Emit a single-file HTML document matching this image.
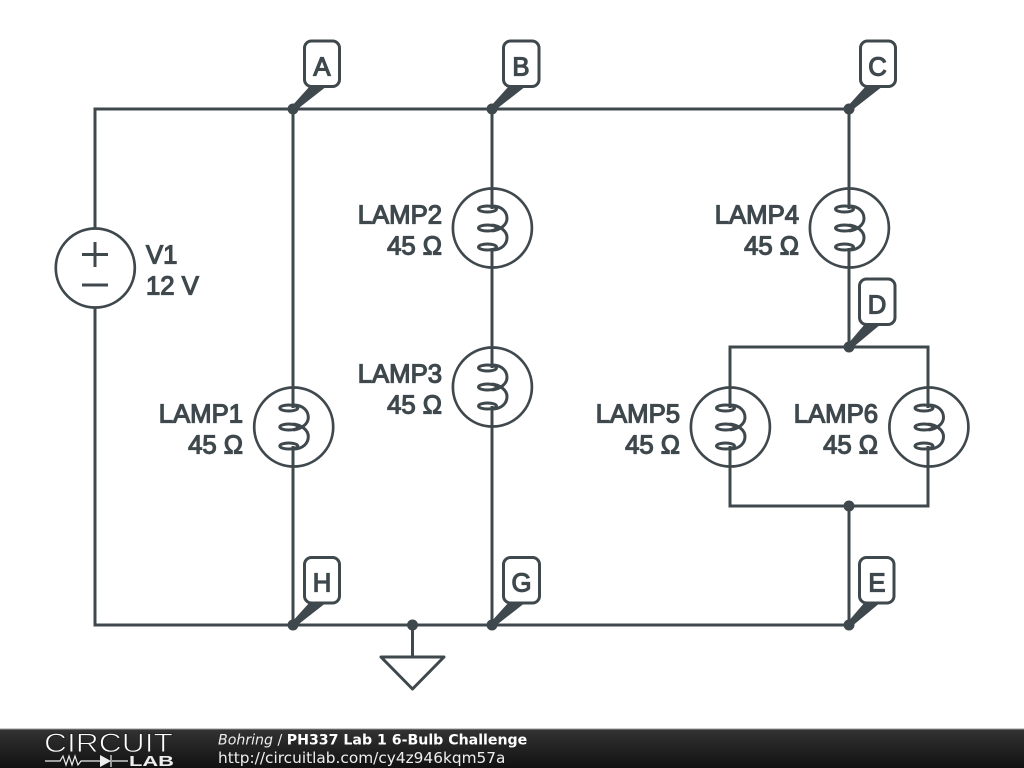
<!DOCTYPE html>
<html><head><meta charset="utf-8"><style>
html,body{margin:0;padding:0;background:#fff;width:1024px;height:768px;overflow:hidden}
svg{display:block}
.l,.n,.v{font:25.7px "Liberation Sans",sans-serif;fill:#3f484d;stroke:#3f484d;stroke-width:1.200px}
.l{text-anchor:end}
.n{text-anchor:middle}
</style></head><body>
<svg width="1024" height="768" viewBox="0 0 1024 768" xmlns="http://www.w3.org/2000/svg">
<defs>
<linearGradient id="f" x1="0" y1="0" x2="0" y2="1"><stop offset="0" stop-color="#333"/><stop offset="1" stop-color="#111"/></linearGradient>
<g id="coil" fill="none" stroke="#3f484d" stroke-width="3">
<ellipse cx="-4.500" cy="-19" rx="9" ry="3"/><ellipse cx="-4.500" cy="0" rx="9" ry="3"/><ellipse cx="-4.500" cy="19" rx="9" ry="3"/>
<path d="M0 -22C10 -22 15 -16 15 -9.500C15 -3 8 2 0 3M0 -3C8 -2 15 3 15 9.500C15 16 10 22 0 22"/>
<circle cx=".4" r="39.500" stroke-width="2.700"/>
</g>
</defs>
<g fill="none" stroke="#3f484d" stroke-width="3">
<path d="M95 228V109H849V209M95 308V625H849V506M293 109V408M293 446V625M492 109V209M492 248V368M492 406V625M849 248V347M730 408V347H928V408M730 446V506H928V446M412.500 625V657"/>
<circle cx="95.300" cy="268" r="39.500" stroke-width="2.700"/>
<path d="M82 254.500H108M95 242V267M82 285H108"/>
<path d="M381 657H444L412.500 689Z" stroke-linejoin="round"/>
</g>
<use href="#coil" x="293.300" y="427"/>
<use href="#coil" x="492" y="228"/>
<use href="#coil" x="492" y="387"/>
<use href="#coil" x="849" y="228"/>
<use href="#coil" x="730" y="427"/>
<use href="#coil" x="928.500" y="427"/>
<g fill="#3f484d">
<circle cx="293" cy="109" r="5.500"/><circle cx="492" cy="109" r="5.500"/><circle cx="849" cy="109" r="5.500"/>
<circle cx="849" cy="347" r="5.500"/><circle cx="849" cy="506" r="5.500"/>
<circle cx="293" cy="625" r="5.500"/><circle cx="492" cy="625" r="5.500"/><circle cx="849" cy="625" r="5.500"/><circle cx="412.500" cy="625" r="5.500"/>
<path d="M291 107L310 86H327L295 111Z"/><path d="M490 107L509 86H526L494 111Z"/><path d="M847 107L866 86H883L851 111Z"/>
<path d="M847 345L865 324H881L851 349Z"/>
<path d="M291 623L310 602H327L295 627Z"/><path d="M490 623L509 602H526L494 627Z"/><path d="M847 623L865 602H881L851 627Z"/>
</g>
<g fill="#fff" stroke="#3f484d" stroke-width="3">
<rect x="304.500" y="41" width="35" height="45.500" rx="7"/>
<rect x="503.500" y="41" width="35.500" height="45.500" rx="7"/>
<rect x="860.500" y="41" width="35" height="45.500" rx="7"/>
<rect x="859.500" y="279" width="35.500" height="45.500" rx="7"/>
<rect x="304.500" y="557.500" width="35" height="45.500" rx="7"/>
<rect x="503.500" y="557.500" width="36" height="45.500" rx="7"/>
<rect x="859.500" y="557.500" width="34.500" height="45.500" rx="7"/>
</g>
<text class="n" x="322" y="75.700">A</text><text class="n" x="521" y="75.700">B</text><text class="n" x="877.500" y="75.700">C</text>
<text class="n" x="877" y="313.700">D</text><text class="n" x="322" y="591.700">H</text><text class="n" x="521.500" y="591.700">G</text><text class="n" x="877" y="591.700">E</text>
<text class="v" x="146" y="263.700">V1</text>
<text class="v" x="146" y="294.700">12 V</text>
<text class="l" x="243" y="422.700">LAMP1</text><text class="l" x="243" y="453.700">45 Ω</text>
<text class="l" x="442" y="223.700">LAMP2</text><text class="l" x="442" y="254.700">45 Ω</text>
<text class="l" x="442" y="382.700">LAMP3</text><text class="l" x="442" y="413.700">45 Ω</text>
<text class="l" x="799" y="223.700">LAMP4</text><text class="l" x="799" y="254.700">45 Ω</text>
<text class="l" x="680" y="422.700">LAMP5</text><text class="l" x="680" y="453.700">45 Ω</text>
<text class="l" x="878" y="422.700">LAMP6</text><text class="l" x="878" y="453.700">45 Ω</text>
<rect x="0" y="729" width="1024" height="39" fill="url(#f)"/>
<rect x="0" y="728.500" width="1024" height="1" fill="#999"/>
<text x="44" y="752" textLength="129" lengthAdjust="spacingAndGlyphs" style="font:27px 'Liberation Sans',sans-serif;fill:#fff;stroke:#222;stroke-width:.9px">CIRCUIT</text>
<path d="M45 761H60L63 756L66 765L69 756L72 765L75 756L78 765L81 761H100M112 761H128M111 755V767" fill="none" stroke="#eee" stroke-width="1.200"/>
<path d="M100 755L111 761L100 767Z" fill="#eee"/>
<text x="129" y="766" textLength="45" lengthAdjust="spacingAndGlyphs" style="font:bold 15px 'Liberation Sans',sans-serif;fill:#eee">LAB</text>
<text x="218" y="744.500" style="font:14.150px 'DejaVu Sans',sans-serif;fill:#eee"><tspan font-style="italic">Bohring</tspan> / <tspan font-weight="bold" fill="#fff">PH337 Lab 1 6-Bulb Challenge</tspan></text>
<text x="218" y="763" style="font:15.350px 'DejaVu Sans',sans-serif;fill:#eee">http://circuitlab.com/cy4z946kqm57a</text>
</svg>
</body></html>
